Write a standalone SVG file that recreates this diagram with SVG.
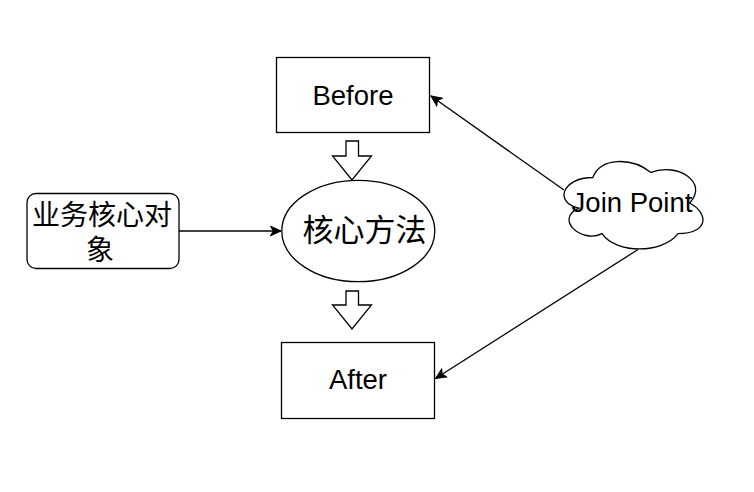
<svg xmlns="http://www.w3.org/2000/svg" width="754" height="492" viewBox="0 0 754 492">
<defs>
<style>
.box{fill:#fff;stroke:#000;stroke-width:1.3}
.lat{font-family:"Liberation Sans",Arial,sans-serif;font-size:27.5px;fill:#000;text-anchor:middle}
.cjk{font-family:"Noto Sans CJK SC","Liberation Sans",sans-serif;fill:#000;text-anchor:middle}
.edge{fill:none;stroke:#000;stroke-width:1.3}
</style>
<marker id="arr" markerUnits="userSpaceOnUse" viewBox="-11 -6 12 12" refX="0" refY="0" markerWidth="12" markerHeight="12" orient="auto">
<path d="M0,0 L-10.5,-4.8 L-7.8,0 L-10.5,4.8 Z" fill="#000" stroke="#000" stroke-width="1"/>
</marker>
</defs>
<rect width="754" height="492" fill="#fff"/>
<g id="connectors">
<line class="edge" x1="179" y1="231" x2="281" y2="231" marker-end="url(#arr)"/>
<line class="edge" x1="564" y1="190" x2="431" y2="96" marker-end="url(#arr)"/>
<line class="edge" x1="638" y1="249.5" x2="435.5" y2="378.5" marker-end="url(#arr)"/>
<path class="box" d="M346,141 H358.5 V156 H371.5 L352,180 L332.5,156 H346 Z"/>
<path class="box" d="M346,291 H358.5 V305 H371.5 L352,329 L332.5,305 H346 Z"/>
</g>
<g id="before">
<rect class="box" x="276.5" y="57.5" width="153" height="75"/>
<text class="lat" x="353" y="105">Before</text>
</g>
<g id="core-method">
<ellipse class="box" cx="358.3" cy="231" rx="76.5" ry="50.7"/>
<text class="cjk" x="364.5" y="241" font-size="31">核心方法</text>
</g>
<g id="business-object">
<rect class="box" x="27" y="193.5" width="152" height="75" rx="9" ry="9"/>
<text class="cjk" font-size="28"><tspan x="102" y="225">业务核心对</tspan><tspan x="100" y="260">象</tspan></text>
</g>
<g id="after">
<rect class="box" x="281.5" y="342.5" width="153" height="76"/>
<text class="lat" x="358" y="389">After</text>
</g>
<g id="join-point">
<path class="box" d="M592.75,177.5 C561.75,177.5 554,203 578.8,208.1 C554,219.3 581.9,243.8 602.05,233.6 C616,254 662.5,254 678,233.6 C709,233.6 709,213.2 689.6,203 C709,182.6 678,162.2 650.9,172.4 C631.5,157.1 600.5,157.1 592.75,177.5 Z"/>
<text class="lat" x="632" y="212">Join Point</text>
</g>
</svg>
